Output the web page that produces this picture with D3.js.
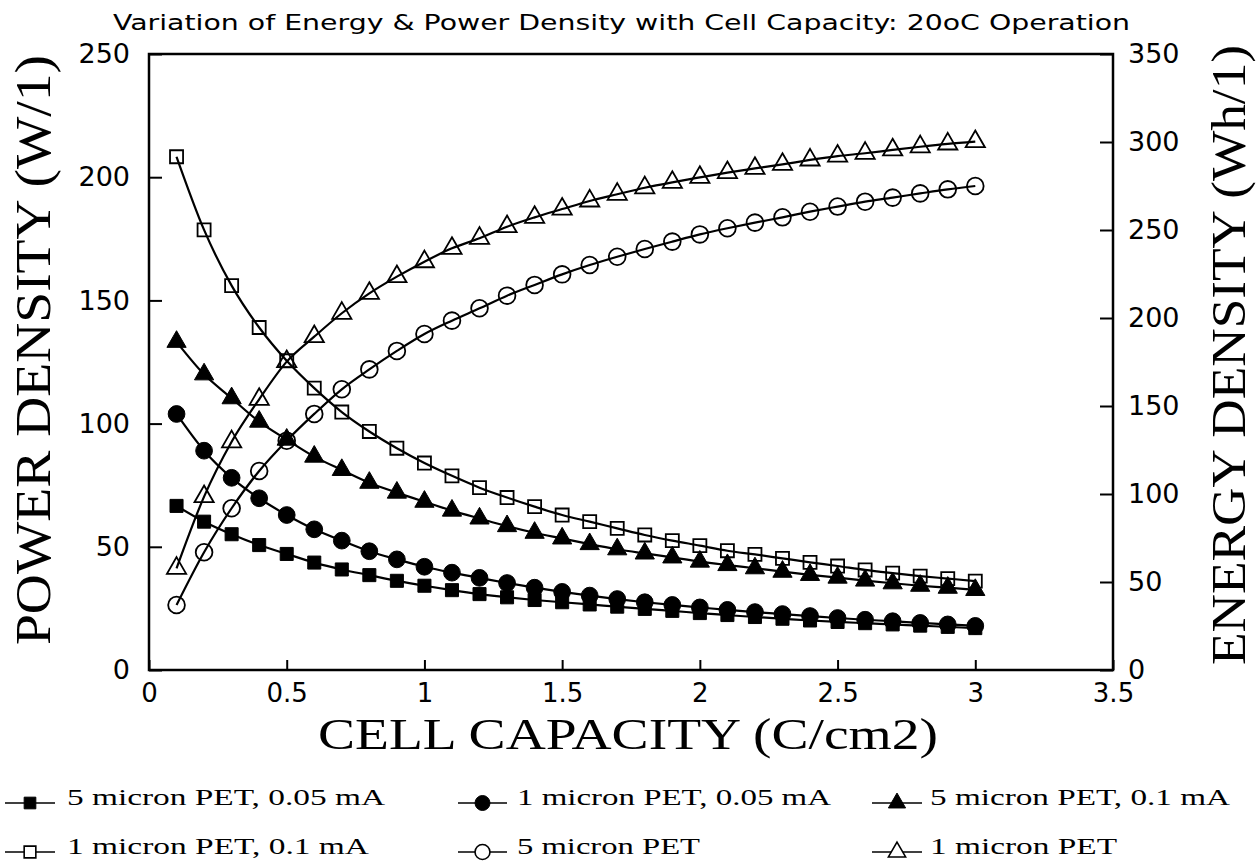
<!DOCTYPE html>
<html>
<head>
<meta charset="utf-8">
<script src="https://cdn.jsdelivr.net/npm/d3@7"></script>
<style>
  body { margin: 0; background: #fff; }
  svg { display: block; }
</style>
</head>
<body>
<div id="chart"></div>
<script>
// cell capacity (C/cm2)
var capacity = [0.1, 0.2, 0.3, 0.4, 0.5, 0.6, 0.7, 0.8, 0.9, 1.0,
  1.1, 1.2, 1.3, 1.4, 1.5, 1.6, 1.7, 1.8, 1.9, 2.0,
  2.1, 2.2, 2.3, 2.4, 2.5, 2.6, 2.7, 2.8, 2.9, 3.0];

// power density (W/l), left axis
var pet5_005mA = [66.6, 60.2, 55.1, 50.7, 47.1, 43.6, 40.8, 38.5, 36.2, 34.2,
  32.4, 30.8, 29.5, 28.4, 27.5, 26.6, 25.7, 24.8, 24.0, 23.1,
  22.3, 21.5, 20.8, 20.1, 19.5, 19.0, 18.5, 18.0, 17.5, 17.0];
var pet1_005mA = [103.9, 89.0, 78.0, 69.7, 62.9, 57.1, 52.5, 48.2, 44.9, 41.9,
  39.5, 37.4, 35.3, 33.4, 31.7, 30.2, 28.8, 27.5, 26.4, 25.4,
  24.4, 23.5, 22.7, 21.9, 21.1, 20.4, 19.8, 19.1, 18.5, 17.9];
var pet5_01mA = [133.2, 120.0, 110.3, 100.8, 93.5, 86.6, 81.2, 76.0, 72.0, 68.3,
  64.7, 61.5, 58.4, 55.7, 53.4, 51.1, 49.0, 47.3, 45.7, 44.0,
  42.6, 41.3, 39.9, 38.6, 37.5, 36.3, 35.2, 34.2, 33.4, 32.5];
var pet1_01mA = [208.3, 178.6, 156.0, 139.0, 125.5, 114.4, 104.7, 96.8, 90.0, 84.0,
  78.8, 74.0, 70.0, 66.3, 62.9, 60.2, 57.5, 54.8, 52.5, 50.5,
  48.4, 46.9, 45.3, 43.7, 42.2, 40.6, 39.3, 38.1, 37.1, 36.1];

// energy density (Wh/l), right axis
var pet5 = [36.9, 66.9, 91.9, 113.1, 130.3, 145.5, 159.5, 170.8, 181.3, 190.9,
  198.5, 205.5, 212.7, 218.8, 224.8, 230.1, 234.8, 239.2, 243.4, 247.5,
  251.0, 254.2, 257.2, 260.4, 263.3, 266.1, 268.4, 270.8, 273.1, 275.0];
var pet1 = [57.8, 98.5, 129.7, 153.8, 175.2, 189.4, 202.7, 214.0, 223.5, 232.0,
  239.6, 245.3, 251.9, 257.2, 261.9, 266.5, 270.3, 274.0, 277.1, 279.9,
  282.6, 285.0, 287.3, 289.8, 292.0, 293.6, 295.5, 297.3, 298.9, 300.2];

var xTicks = [0, 0.5, 1, 1.5, 2, 2.5, 3, 3.5];
var leftTicks = [0, 50, 100, 150, 200, 250];
var rightTicks = [0, 50, 100, 150, 200, 250, 300, 350];

var series = [
  {name: "5 micron PET, 0.05 mA", values: pet5_005mA, axis: "left", shape: d3.symbolSquare, filled: true},
  {name: "1 micron PET, 0.05 mA", values: pet1_005mA, axis: "left", shape: d3.symbolCircle, filled: true},
  {name: "5 micron PET, 0.1 mA", values: pet5_01mA, axis: "left", shape: d3.symbolTriangle, filled: true},
  {name: "1 micron PET, 0.1 mA", values: pet1_01mA, axis: "left", shape: d3.symbolSquare, filled: false},
  {name: "5 micron PET", values: pet5, axis: "right", shape: d3.symbolCircle, filled: false},
  {name: "1 micron PET", values: pet1, axis: "right", shape: d3.symbolTriangle, filled: false}
];

var width = 1260,
  height = 862;

var plot = {left: 149, right: 1113, top: 54, bottom: 670};

var svg = d3.select("#chart")
  .append("svg")
  .attr("width", width)
  .attr("height", height);

var x = d3.scaleLinear().domain([0, 3.5]).range([plot.left, plot.right]);
var yLeft = d3.scaleLinear().domain([0, 250]).range([plot.bottom, plot.top]);
var yRight = d3.scaleLinear().domain([0, 350]).range([plot.bottom, plot.top]);

function symbolSize(shape) {
  if (shape === d3.symbolSquare) return 170;
  if (shape === d3.symbolCircle) return 220;
  return 160;
}

// title
svg.append("text")
  .attr("x", 113)
  .attr("y", 30)
  .attr("textLength", 1017)
  .attr("lengthAdjust", "spacingAndGlyphs")
  .attr("fill", "#000")
  .style("font-family", "DejaVu Sans")
  .style("font-size", "22px")
  .text("Variation of Energy & Power Density with Cell Capacity: 20oC Operation");

// axes
var xAxis = d3.axisBottom(x)
  .tickValues(xTicks)
  .tickFormat(d3.format(""))
  .tickSizeInner(-10)
  .tickSizeOuter(0)
  .tickPadding(14);

var leftAxis = d3.axisLeft(yLeft)
  .tickValues(leftTicks)
  .tickSizeInner(-13)
  .tickSizeOuter(0)
  .tickPadding(19);

var rightAxis = d3.axisRight(yRight)
  .tickValues(rightTicks)
  .tickSizeInner(-13)
  .tickSizeOuter(0)
  .tickPadding(15);

var gx = svg.append("g")
  .attr("transform", "translate(0," + plot.bottom + ")")
  .call(xAxis);
var gl = svg.append("g")
  .attr("transform", "translate(" + plot.left + ",0)")
  .call(leftAxis);
var gr = svg.append("g")
  .attr("transform", "translate(" + plot.right + ",0)")
  .call(rightAxis);

[gx, gl, gr].forEach(function(g) {
  g.select(".domain").remove();
  g.selectAll(".tick line").attr("stroke", "#000").attr("stroke-width", 2);
  g.selectAll(".tick text")
    .attr("fill", "#000")
    .style("font-family", "DejaVu Sans")
    .style("font-size", "27px");
});
gx.selectAll(".tick text").style("font-size", "26px");

// frame
svg.append("rect")
  .attr("x", plot.left)
  .attr("y", plot.top)
  .attr("width", plot.right - plot.left)
  .attr("height", plot.bottom - plot.top)
  .attr("fill", "none")
  .attr("stroke", "#000")
  .attr("stroke-width", 2.5);

// axis labels
svg.append("text")
  .attr("x", 318)
  .attr("y", 749)
  .attr("textLength", 620)
  .attr("lengthAdjust", "spacingAndGlyphs")
  .style("font-family", "Liberation Serif")
  .style("font-size", "44px")
  .text("CELL CAPACITY (C/cm2)");

svg.append("text")
  .attr("transform", "translate(50,645) rotate(-90)")
  .attr("textLength", 590)
  .attr("lengthAdjust", "spacingAndGlyphs")
  .style("font-family", "Liberation Serif")
  .style("font-size", "50px")
  .text("POWER DENSITY (W/1)");

svg.append("text")
  .attr("transform", "translate(1245,665) rotate(-90)")
  .attr("textLength", 620)
  .attr("lengthAdjust", "spacingAndGlyphs")
  .style("font-family", "Liberation Serif")
  .style("font-size", "48px")
  .text("ENERGY DENSITY (Wh/1)");

// curves and markers
series.forEach(function(s) {
  var yScale = s.axis === "left" ? yLeft : yRight;
  var pts = capacity.map(function(c, i) { return [c, s.values[i]]; });

  var line = d3.line()
    .x(function(d) { return x(d[0]); })
    .y(function(d) { return yScale(d[1]); })
    .curve(d3.curveMonotoneX);

  svg.append("path")
    .datum(pts)
    .attr("d", line)
    .attr("fill", "none")
    .attr("stroke", "#000")
    .attr("stroke-width", 2.2);

  svg.append("g")
    .selectAll("path")
    .data(pts)
    .enter().append("path")
    .attr("transform", function(d) {
      return "translate(" + x(d[0]) + "," + yScale(d[1]) + ")";
    })
    .attr("d", d3.symbol().type(s.shape).size(symbolSize(s.shape)))
    .attr("fill", s.filled ? "#000" : "none")
    .attr("stroke", "#000")
    .attr("stroke-width", s.filled ? 1 : 1.8);
});

// legend
var legendCols = [{line: [5, 55], text: 67}, {line: [458, 507], text: 517}, {line: [872, 922], text: 930}];
var legendRows = [805, 854];
var legendLen = [[318, 314, 300], [302, 183, 187]];

series.forEach(function(s, i) {
  var col = legendCols[i % 3],
    row = Math.floor(i / 3),
    base = legendRows[row],
    cy = base - 2;
  var g = svg.append("g").attr("class", "legend");

  g.append("line")
    .attr("x1", col.line[0])
    .attr("x2", col.line[1])
    .attr("y1", cy)
    .attr("y2", cy)
    .attr("stroke", "#000")
    .attr("stroke-width", 1.3);

  g.append("path")
    .attr("transform", "translate(" + (col.line[0] + col.line[1]) / 2 + "," + cy + ")")
    .attr("d", d3.symbol().type(s.shape).size(symbolSize(s.shape) * 0.8))
    .attr("fill", s.filled ? "#000" : "#fff")
    .attr("stroke", "#000")
    .attr("stroke-width", s.filled ? 1 : 1.6);

  g.append("text")
    .attr("x", col.text)
    .attr("y", base)
    .attr("textLength", legendLen[row][i % 3])
    .attr("lengthAdjust", "spacingAndGlyphs")
    .style("font-family", "Liberation Serif")
    .style("font-size", "24px")
    .text(s.name);
});
</script>
</body>
</html>
